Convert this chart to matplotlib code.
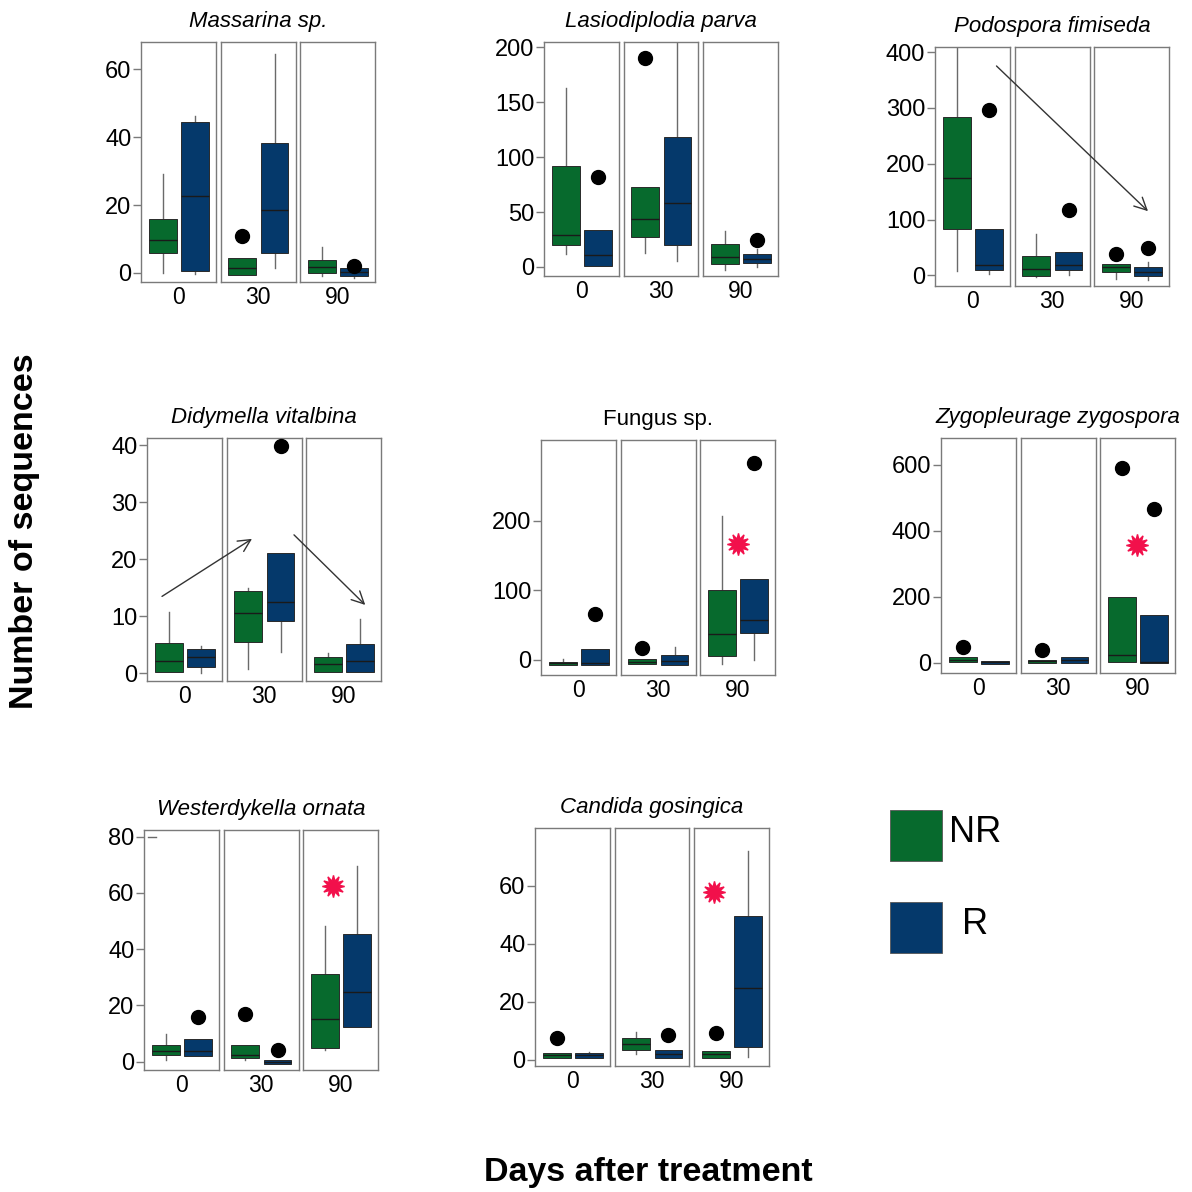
import matplotlib
matplotlib.use('Agg')
import matplotlib.pyplot as plt
from matplotlib.patches import Rectangle

plt.rcParams['font.family'] = ['Liberation Sans', 'DejaVu Sans']

# data: 8 species, 6 boxes each -> NR0, R0, NR30, R30, NR90, R90
species = ['Massarina sp.', 'Lasiodiplodia parva', 'Podospora fimiseda',
           'Didymella vitalbina', 'Fungus sp.', 'Zygopleurage zygospora',
           'Westerdykella ornata', 'Candida gosingica']
italic = [True, True, True, True, False, True, True, True]
days = ['0', '30', '90']
groups = ['NR', 'R']

whislo = [[0, -0.4, -0.7, 1.3, -0.8, -1.4],
          [12.2, 0.9, 12.8, 5.5, -2.4, 0],
          [7.2, 3, -3, 0, -6, -7.8],
          [0.3, 0, 0.7, 3.8, 0.2, 0.2],
          [-7.2, -7.2, -6.2, -7.2, -5.8, 0],
          [2, -2, 0, 0, 2, 0],
          [0.6, 2.1, 0.4, -0.8, 4.1, 12.4],
          [0.7, 0.7, 2.1, 0.7, 0.7, 0.9]]
q1 = [[6.0, 0.6, -0.7, 5.9, 0.1, -0.8],
      [19.8, 0.9, 27.4, 19.8, 3.0, 3.6],
      [83, 9, -1.8, 10.1, 6.0, -1.8],
      [0.3, 1.1, 5.5, 9.1, 0.2, 0.2],
      [-7.2, -7.2, -6.2, -7.2, 5.8, 39.3],
      [2, -2, 0, 0, 2, 0],
      [2.4, 2.1, 1.2, -0.8, 4.7, 12.4],
      [0.7, 0.7, 3.2, 0.7, 0.7, 4.4]]
med = [[9.8, 22.7, 1.3, 18.5, 1.8, 0.2],
       [28.9, 10.6, 44.1, 58.7, 9.1, 7.6],
       [174.3, 17.9, 11.9, 19.1, 14.9, 6],
       [2.2, 2.8, 10.6, 12.5, 1.6, 2.2],
       [-4.8, -4.5, -2.4, -1, 36.9, 57.6],
       [10, 2, 5, 10, 25.2, 2],
       [3.6, 3.9, 2.4, 0, 15.2, 24.9],
       [1.5, 1.5, 5.5, 2, 1.8, 24.6]]
q3 = [[16.0, 44.4, 4.4, 38.2, 3.7, 1.3],
      [91.8, 33.5, 73.0, 118, 21.3, 11.6],
      [283.6, 83.6, 34.6, 41.8, 20.9, 14.9],
      [5.4, 4.3, 14.4, 21.1, 2.9, 5.1],
      [-2.4, 15.3, 1.4, 7.2, 100.7, 117],
      [17, 7, 10, 19, 198.6, 144.2],
      [5.9, 7.9, 5.9, 0.6, 31.2, 45.4],
      [2.3, 2.3, 7.6, 3.2, 3.0, 49.6]]
whishi = [[29.1, 46.4, 4.4, 64.5, 7.5, 1.3],
          [162.7, 33.5, 73.0, 203.8, 32.5, 16.7],
          [420, 83.6, 74.6, 41.8, 20.9, 23.9],
          [10.8, 4.8, 15, 21.1, 3.5, 9.6],
          [1, 15.3, 1.4, 18.2, 207.7, 117],
          [17, 7, 10, 19, 198.6, 144.2],
          [9.7, 7.9, 5.9, 0.6, 48.2, 69.6],
          [2.3, 2.7, 9.6, 3.2, 3.0, 72.2]]

# black dots: (species, box, value)
dots = [(0, 2, 11.0), (0, 5, 2.1),
        (1, 1, 82.1), (1, 2, 190.7), (1, 5, 24.3),
        (2, 1, 296.7), (2, 3, 116.4), (2, 4, 38.8), (2, 5, 49),
        (3, 3, 39.9),
        (4, 1, 65.7), (4, 2, 16.8), (4, 5, 283.9),
        (5, 0, 47.4), (5, 2, 38.3), (5, 4, 590), (5, 5, 465.9),
        (6, 1, 15.8), (6, 2, 16.8), (6, 3, 4.1),
        (7, 0, 7.3), (7, 3, 8.4), (7, 4, 9.2)]
# red stars in the 90-day facet: (species, x within facet, value)
stars = [(4, 0.50, 166.4), (5, 0.49, 356), (6, 0.40, 62.6), (7, 0.27, 58)]

yticks = [[0, 20, 40, 60], [0, 50, 100, 150, 200], [0, 100, 200, 300, 400],
          [0, 10, 20, 30, 40], [0, 100, 200], [0, 200, 400, 600],
          [0, 20, 40, 60, 80], [0, 20, 40, 60]]
ylims = [(-2.7, 68.1), (-8.2, 205), (-19, 409), (-1.35, 41.3),
         (-21.6, 316.5), (-30.3, 680.6), (-3.0, 82.4), (-2.2, 80)]

# layout in pixels
W = H = 1192
panel_left = [141, 544, 935, 147, 541, 941, 144, 535]
panel_top = [42, 42, 47, 438, 440, 438, 830, 828]
panel_bot = [282, 276, 286, 681, 675, 673, 1070, 1066]
facet_w = 75
facet_gap = 4.5
box_pos = [0.29, 0.72]
box_w = 0.37

c_nr = '#076a2d'
c_r = '#05396b'
c_star = '#f2104b'
c_frame = '#7a7a7a'

fig = plt.figure(figsize=(W / 100, H / 100), dpi=100)

all_axes = []
for s in range(len(species)):
    facets = []
    for j in range(3):
        l = panel_left[s] + j * (facet_w + facet_gap)
        ax = fig.add_axes([l / W, 1 - panel_bot[s] / H, facet_w / W,
                           (panel_bot[s] - panel_top[s]) / H])
        stats = []
        for k in range(2):
            b = 2 * j + k
            stats.append(dict(med=med[s][b], q1=q1[s][b], q3=q3[s][b],
                              whislo=whislo[s][b], whishi=whishi[s][b]))
        bp = ax.bxp(stats, positions=box_pos, widths=box_w, patch_artist=True,
                    showcaps=False, showfliers=False,
                    boxprops=dict(edgecolor='#2a2a2a', linewidth=0.7),
                    whiskerprops=dict(color='#6a6a6a', linewidth=1.0),
                    medianprops=dict(color='#1a1a1a', linewidth=1.0))
        for patch, c in zip(bp['boxes'], [c_nr, c_r]):
            patch.set_facecolor(c)
        for w in bp['whiskers']:
            w.set_zorder(1)
        ax.set_xlim(0, 1)
        ax.set_ylim(*ylims[s])
        ax.set_xticks([0.5], [days[j]])
        ax.tick_params(axis='x', length=0, labelsize=16.5, pad=3)
        for sp in ax.spines.values():
            sp.set_color(c_frame)
            sp.set_linewidth(1.0)
        if j == 0:
            ax.set_yticks(yticks[s])
            ax.tick_params(axis='y', direction='out', length=6, width=1,
                           color=c_frame, labelsize=17, pad=1)
        else:
            ax.set_yticks([])
        facets.append(ax)
    for d in dots:
        if d[0] == s:
            ax = facets[d[1] // 2]
            ax.plot(box_pos[d[1] % 2], d[2], 'o', color='black', ms=10,
                    zorder=5, clip_on=False)
    for st in stars:
        if st[0] == s:
            facets[2].plot(st[1], st[2], marker=(12, 1, 0), color=c_star,
                           ms=16, zorder=5)
    facets[1].set_title(species[s], fontsize=16, pad=11,
                        style='italic' if italic[s] else 'normal')
    all_axes.append(facets)

# tiny stray dash in Westerdykella
all_axes[6][0].plot([0.05, 0.16], [80, 80], color='#6a6a6a', lw=1)


def arrow(ax_from, p_from, ax_to, p_to):
    ax_to.annotate('', xy=p_to, xycoords='data', xytext=p_from,
                   textcoords=ax_from.transData, annotation_clip=False,
                   arrowprops=dict(arrowstyle='->', color='#333333', lw=1.0,
                                   mutation_scale=22, shrinkA=0, shrinkB=0))


arrow(all_axes[2][0], (0.82, 375), all_axes[2][2], (0.72, 115))
arrow(all_axes[3][0], (0.20, 13.5), all_axes[3][1], (0.34, 23.6))
arrow(all_axes[3][1], (0.90, 24.3), all_axes[3][2], (0.79, 12.0))

# legend squares
for c, y0, lab, xt in [(c_nr, 810, 'NR', 949), (c_r, 902, 'R', 962)]:
    fig.add_artist(Rectangle((890 / W, 1 - (y0 + 51) / H), 52 / W, 51 / H,
                             transform=fig.transFigure, facecolor=c,
                             edgecolor='#555555', linewidth=0.6))
    fig.text(xt / W, 1 - (y0 + 23) / H, lab, fontsize=26, va='center',
             ha='left')

fig.text(25 / W, 1 - 531 / H, 'Number of sequences', rotation=90,
         fontsize=24.5, fontweight='bold', ha='center', va='center')
fig.text(648 / W, 1 - 1172 / H, 'Days after treatment',
         fontsize=24.5, fontweight='bold', ha='center', va='center')

fig.savefig('out.png', dpi=100)
